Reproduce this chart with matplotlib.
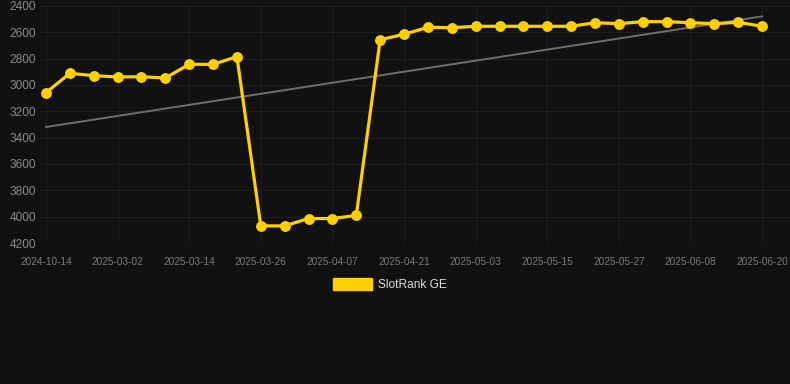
import matplotlib.pyplot as plt

# Data
dates = ["2024-10-14", "2025-02-22", "2025-02-26", "2025-03-02", "2025-03-06", "2025-03-10",
         "2025-03-14", "2025-03-18", "2025-03-22", "2025-03-26", "2025-03-30", "2025-04-03",
         "2025-04-07", "2025-04-12", "2025-04-16", "2025-04-21", "2025-04-25", "2025-04-29",
         "2025-05-03", "2025-05-07", "2025-05-11", "2025-05-15", "2025-05-19", "2025-05-23",
         "2025-05-27", "2025-05-31", "2025-06-04", "2025-06-08", "2025-06-12", "2025-06-16",
         "2025-06-20"]
rank = [3058, 2911, 2929, 2939, 2937, 2947, 2843, 2843, 2785, 4070, 4070, 4014, 4014, 3991,
        2656, 2615, 2562, 2565, 2554, 2554, 2554, 2554, 2554, 2527, 2534, 2519, 2519, 2527,
        2534, 2524, 2554]
trend_start = 3319
trend_end = 2479
yticks = [2400, 2600, 2800, 3000, 3200, 3400, 3600, 3800, 4000, 4200]

bg = "#111111"
plt.rcParams["font.family"] = ["Liberation Sans", "DejaVu Sans"]

fig = plt.figure(figsize=(7.9, 3.84), dpi=100, facecolor=bg)
ax = fig.add_axes([40 / 790, 1 - 243 / 384, 1 - 40 / 790, (243 - 6) / 384])
ax.set_facecolor(bg)

x = list(range(len(dates)))
ax.plot([x[0], x[-1]], [trend_start, trend_end], color="#6e6e6e", linewidth=1.4, zorder=2)
ax.plot(x, rank, color="#FFD000", linewidth=2.3, marker="o", markersize=6.8,
        markerfacecolor="#FFD000", markeredgecolor="#FFD000", zorder=3)

ax.set_ylim(4200, 2400)
ax.set_xlim(-0.25, 31.17)
ax.set_yticks(yticks)
ax.set_xticks(x[::3])
ax.set_xticklabels(dates[::3])

ax.grid(True, color="#1e1e1e", linewidth=0.8)
ax.set_axisbelow(True)
for s in ax.spines.values():
    s.set_visible(False)
ax.tick_params(axis="y", colors="#8a8a8a", labelsize=8.6, length=0, pad=3)
ax.tick_params(axis="x", colors="#7a7a7a", labelsize=7.2, length=0, pad=10)

# legend drawn by hand to match position
fig.patches.append(plt.Rectangle((333 / 790, 1 - 290 / 384), 39 / 790, 12 / 384,
                                 transform=fig.transFigure, color="#FFD000"))
fig.text(378 / 790, 1 - 285 / 384, "SlotRank GE", color="#dddddd", fontsize=8.6, va="center")

fig.savefig("out.png", dpi=100, facecolor=bg)
